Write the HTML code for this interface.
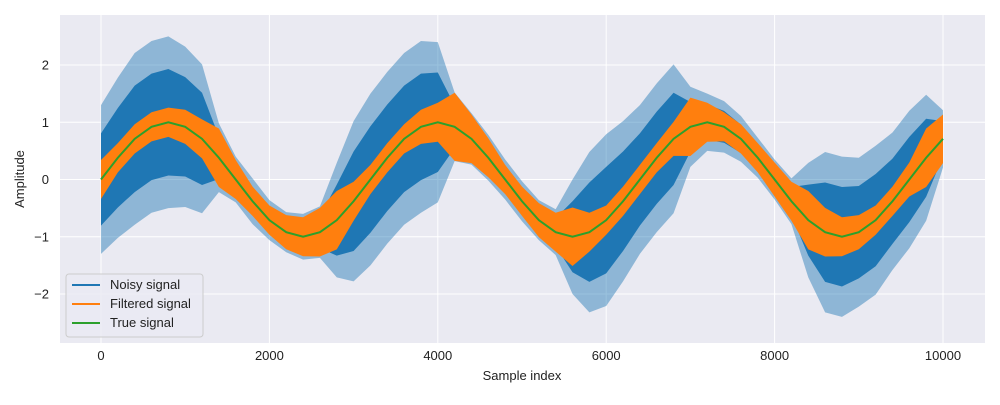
<!DOCTYPE html>
<html><head><meta charset="utf-8"><style>
body{margin:0;background:#fff;font-family:"Liberation Sans",sans-serif}
</style></head><body>
<svg width="1000" height="400" xmlns="http://www.w3.org/2000/svg" font-family="Liberation Sans, sans-serif">
<rect x="60" y="15" width="925" height="328" fill="#eaeaf2"/>
<g id="grid"></g>
<g id="series"></g>
<g id="ticks" font-size="13" fill="#222"></g>
<text x="522" y="380" font-size="13" text-anchor="middle" fill="#222">Sample index</text>
<text transform="translate(24,179) rotate(-90)" font-size="13" text-anchor="middle" fill="#222">Amplitude</text>
<g>
<rect x="66" y="274" width="137" height="63" rx="3" fill="#eaeaf2" fill-opacity="0.8" stroke="#ccc"/>
<g><line x1="72" x2="100" y1="285" y2="285" stroke="#1f77b4" stroke-width="2"/><text x="110" y="289" font-size="13" fill="#222">Noisy signal</text></g>
<g><line x1="72" x2="100" y1="304" y2="304" stroke="#ff7f0e" stroke-width="2"/><text x="110" y="308" font-size="13" fill="#222">Filtered signal</text></g>
<g><line x1="72" x2="100" y1="323" y2="323" stroke="#2ca02c" stroke-width="2"/><text x="110" y="327" font-size="13" fill="#222">True signal</text></g>
</g>
</svg>
<script>
const sampleX=[0,200,400,600,800,1000,1200,1400,1600,1800,2000,2200,2400,2600,2800,3000,3200,3400,3600,3800,4000,4200,4400,4600,4800,5000,5200,5400,5600,5800,6000,6200,6400,6600,6800,7000,7200,7400,7600,7800,8000,8200,8400,8600,8800,9000,9200,9400,9600,9800,10000];
const trueVals=[0,0.38,0.71,0.92,1,0.92,0.71,0.38,0,-0.38,-0.71,-0.92,-1,-0.92,-0.71,-0.38,0,0.38,0.71,0.92,1,0.92,0.71,0.38,0,-0.38,-0.71,-0.92,-1,-0.92,-0.71,-0.38,0,0.38,0.71,0.92,1,0.92,0.71,0.38,0,-0.38,-0.71,-0.92,-1,-0.92,-0.71,-0.38,0,0.38,0.71];
const noiseAmp=[1.3,1.4,1.5,1.5,1.5,1.4,1.3,0.6,0.4,0.4,0.35,0.35,0.4,0.45,1.0,1.4,1.5,1.5,1.5,1.5,1.4,0.6,0.45,0.4,0.35,0.35,0.35,0.4,1.0,1.4,1.5,1.4,1.3,1.3,1.3,0.7,0.5,0.45,0.4,0.35,0.35,0.4,1.0,1.4,1.4,1.3,1.3,1.2,1.2,1.1,0.5];
const filtAmp=[0.4,0.3,0.3,0.3,0.3,0.35,0.4,0.6,0.4,0.3,0.3,0.35,0.4,0.5,0.6,0.4,0.3,0.3,0.3,0.35,0.4,0.7,0.5,0.4,0.3,0.3,0.35,0.4,0.6,0.4,0.3,0.3,0.3,0.3,0.35,0.6,0.4,0.3,0.3,0.3,0.35,0.4,0.6,0.5,0.4,0.35,0.3,0.3,0.35,0.6,0.5];
const xTicks=[0,2000,4000,6000,8000,10000];
const yTicks=[-2,-1,0,1,2];
const X=v=>101+v*0.0842, Y=v=>179.5-v*57.25;
const NS="http://www.w3.org/2000/svg";
function mk(t,a,p){const e=document.createElementNS(NS,t);for(const k in a)e.setAttribute(k,a[k]);p.appendChild(e);return e;}
const grid=document.getElementById('grid'),ser=document.getElementById('series'),tk=document.getElementById('ticks');
xTicks.forEach(v=>{const l=mk('line',{x1:X(v),x2:X(v),y1:15,y2:343,stroke:'#fff','stroke-width':1},grid);


const t=mk('text',{x:X(v),y:360,'text-anchor':'middle'},tk);t.textContent=v;

});
yTicks.forEach(v=>{const l=mk('line',{x1:60,x2:985,y1:Y(v),y2:Y(v),stroke:'#fff','stroke-width':1},grid);


const t=mk('text',{x:49,y:Y(v)+4.5,'text-anchor':'end'},tk);t.textContent=v<0?'\u2212'+(-v):v;

});
function band(amp,scale,color,op,name){
let pts=sampleX.map((x,i)=>X(x)+','+Y(trueVals[i]+amp[i]*scale));
for(let i=sampleX.length-1;i>=0;i--)pts.push(X(sampleX[i])+','+Y(trueVals[i]-amp[i]*scale));
const p=mk('polygon',{points:pts.join(' '),fill:color,'fill-opacity':op,stroke:'none'},ser);

}
band(noiseAmp,1.0,'#1f77b4',0.45,'noisy-signal-spikes');
band(noiseAmp,0.62,'#1f77b4',1,'noisy-signal');
band(filtAmp,0.85,'#ff7f0e',1,'filtered-signal');
const tl=mk('polyline',{points:sampleX.map((x,i)=>X(x)+','+Y(trueVals[i])).join(' '),fill:'none',stroke:'#2ca02c','stroke-width':2},ser);


</script>
</body></html>
